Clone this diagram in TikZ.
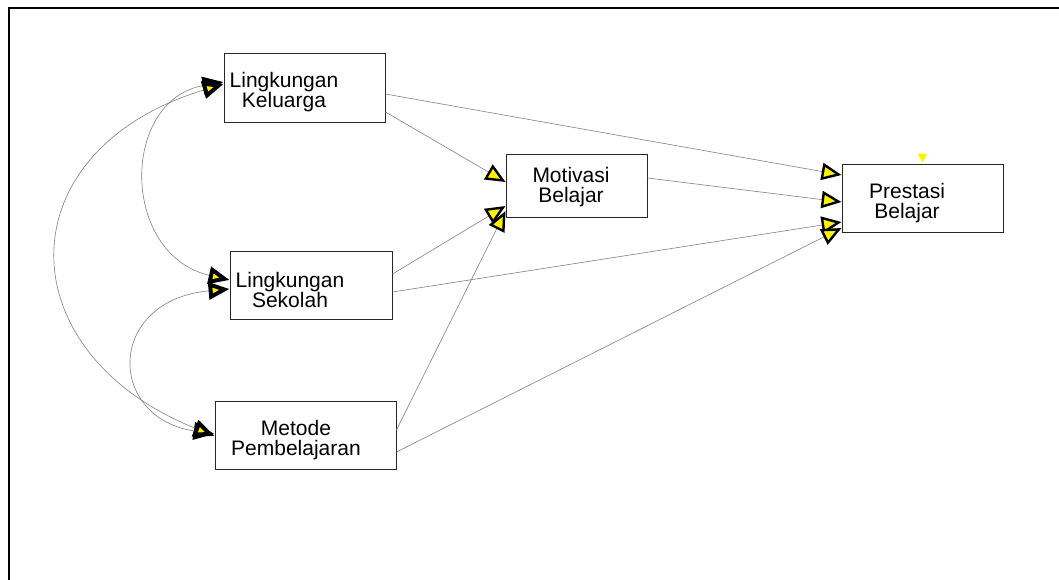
\documentclass[tikz,border=0pt]{standalone}
\usepackage{fontspec}
\setmainfont{Liberation Sans}
\usetikzlibrary{arrows.meta,positioning}

\tikzset{
  varbox/.style={draw=black!85, line width=0.9pt, inner sep=0pt},
  lbl/.style={align=center, inner sep=0pt, font=\fontsize{21}{20}\selectfont},
  regline/.style={draw=black!50, line width=0.6pt, -{Triangle[length=20pt,width=17pt,color=black,fill=yellow,line width=2.4pt]}},
  covline/.style={draw=black!50, line width=0.6pt, {Triangle[length=21pt,width=17pt,color=black,fill=yellow,line width=4pt]}-{Triangle[length=21pt,width=17pt,color=black,fill=yellow,line width=4pt]}}
}

\begin{document}
\begin{tikzpicture}[x=1pt,y=-1pt]
            \useasboundingbox (0,0) rectangle (1059,580);
            \draw[line width=2pt] (8.5,580) -- (8.5,8.5) -- (1059,8.5);
            % boxes
            \node[varbox, minimum width=161pt, minimum height=69pt] (lk) at (304.5,87.5) {};
            \node[varbox, minimum width=141pt, minimum height=63pt] (mb) at (576.5,185.5) {};
            \node[varbox, minimum width=161pt, minimum height=68pt] (pb) at (922.5,198) {};
            \node[varbox, minimum width=162pt, minimum height=68pt] (ls) at (311,285) {};
            \node[varbox, minimum width=181pt, minimum height=68pt] (mp) at (305.5,435) {};
            \node[lbl] (lk-txt) at (284,92) {Lingkungan\\Keluarga};
            \node[lbl] (mb-txt) at (571,187) {Motivasi\\Belajar};
            \node[lbl] (pb-txt) at (907,203) {Prestasi\\Belajar};
            \node[lbl] (ls-txt) at (290,290) {Lingkungan\\Sekolah};
            \node[lbl] (mp-txt) at (296,440) {Metode\\Pembelajaran};
            % paths
            \draw[regline] ([yshift=-24.5pt]lk.east) -- ([yshift=3.5pt]mb.west);
            \draw[regline] ([yshift=-6.5pt]lk.east) -- ([yshift=23pt]pb.west);
            \draw[regline] ([yshift=7.5pt]mb.east) -- ([yshift=-4pt]pb.west);
            \draw[regline] ([yshift=11pt]ls.east) -- ([yshift=-20.5pt]mb.west);
            \draw[regline] ([yshift=-7pt]ls.east) -- ([yshift=-24pt]pb.west);
            \draw[regline] ([yshift=5pt]mp.east) -- ([yshift=-25.5pt]mb.west);
            \draw[regline] ([yshift=-17pt]mp.east) -- ([yshift=-30pt]pb.west);
            % covariances
            \draw[covline] ([yshift=5.5pt]lk.west) .. controls (120,100) and (120,255) .. ([yshift=5pt]ls.west);
            \draw[covline] ([yshift=-4pt]ls.west) .. controls (106,300) and (106,418) .. ([yshift=1pt]mp.west);
            \draw[covline] ([yshift=3.5pt]lk.west) .. controls (5,150) and (5,352) .. ([yshift=-1pt]mp.west);
            \fill[yellow] ([xshift=-5pt,yshift=10pt]pb.north) -- ([xshift=5pt,yshift=10pt]pb.north) -- ([yshift=1pt]pb.north) -- cycle;
        \end{tikzpicture}
\end{document}
